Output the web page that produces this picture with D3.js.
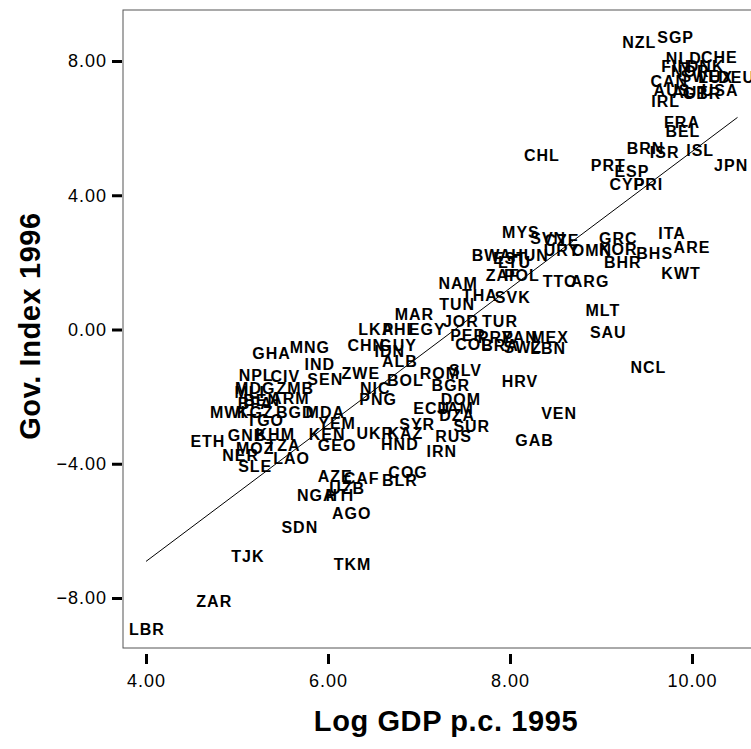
<!DOCTYPE html>
<html>
<head>
<meta charset="utf-8">
<script src="https://cdn.jsdelivr.net/npm/d3@7"></script>
<style>
  body { margin: 0; background: #fff; }
  svg { display: block; font-family: "Liberation Sans", Arial, sans-serif; }
  .lbl { font-weight: bold; font-size: 16px; letter-spacing: 1px; }
  .tick-lbl { font-size: 18px; letter-spacing: 1px; }
  .title { font-weight: bold; font-size: 29px; letter-spacing: 0.6px; }
</style>
</head>
<body>
<svg></svg>
<script>
// country codes, log gdp per capita 1995, governance index 1996
var codes = ["NZL","SGP","NLD","CHE","FIN","DNK","NOR","SWE","LUX","DEU","CAN","AUS","AUT","GBR","USA","IRL",
  "FRA","BEL","BRN","ISR","ISL","JPN","PRT","ESP","CYP","PRI","CHL",
  "MYS","CZE","SVN","GRC","URY","OMN","KOR","ITA","ARE","BHS","BHR","KWT","BWA","HUN","EST","LTU","ZAF","POL",
  "TTO","ARG","NAM","THA","SVK","TUN","MAR","JOR","TUR","LKA","PHL","EGY","PER","PRY","PAN","MEX","COL","BRA","SWZ","LBN",
  "MLT","SAU","NCL","HRV","VEN","GAB",
  "GHA","MNG","CHN","GUY","IDN","ALB","ZWE","BOL","NIC","PNG","IND","NPL","CIV","SEN","MDG","MLI","ZMB","BEN","BFA","ARM",
  "MWI","KGZ","BGD","MDA","TGO","YEM","KEN","KHM","GEO","ETH","GNB","MOZ","TZA","NER","SLE","LAO",
  "UKR","KAZ","HND","SYR","RUS","SUR","IRN","DZA","ECU","JAM","DOM","ROM","SLV","BGR",
  "AZE","UZB","NGA","HTI","CAF","BLR","COG","AGO","SDN","TJK","TKM","ZAR","LBR"];

var gdp = [9.42,9.82,9.91,10.30,9.82,10.15,9.98,10.09,10.26,10.49,9.75,9.78,9.98,10.11,10.31,9.71,
  9.89,9.90,9.49,9.70,10.09,10.43,9.08,9.34,9.29,9.52,8.35,
  8.12,8.57,8.42,9.19,8.57,8.90,9.19,9.78,10.00,9.59,9.24,9.88,7.80,8.22,8.00,8.05,7.92,8.13,
  8.55,8.88,7.43,7.67,8.03,7.42,6.95,7.46,7.89,6.53,6.79,7.09,7.54,7.84,8.11,8.44,7.60,7.89,8.14,8.42,
  9.02,9.08,9.52,8.11,8.54,8.27,
  5.38,5.80,6.42,6.77,6.68,6.79,6.36,6.85,6.52,6.55,5.91,5.21,5.53,5.97,5.20,5.14,5.64,5.27,5.20,5.58,
  4.90,5.20,5.64,5.97,5.31,6.10,5.99,5.42,6.10,4.68,5.11,5.20,5.51,5.04,5.20,5.60,
  6.52,6.85,6.79,6.98,7.38,7.58,7.25,7.42,7.14,7.40,7.46,7.23,7.51,7.35,
  6.08,6.21,5.87,6.13,6.37,6.79,6.88,6.26,5.69,5.12,6.27,4.75,4.01];

var gov = [8.55,8.70,8.07,8.10,7.84,7.84,7.69,7.54,7.51,7.51,7.39,7.12,7.06,7.03,7.12,6.79,
  6.17,5.90,5.39,5.27,5.33,4.89,4.89,4.71,4.32,4.32,5.18,
  2.89,2.65,2.71,2.71,2.35,2.35,2.38,2.86,2.44,2.26,2.00,1.67,2.20,2.20,2.12,2.00,1.61,1.61,
  1.43,1.43,1.37,1.01,0.95,0.74,0.45,0.24,0.24,0.00,0.00,0.00,-0.18,-0.24,-0.24,-0.24,-0.45,-0.48,-0.54,-0.57,
  0.57,-0.09,-1.13,-1.55,-2.50,-3.31,
  -0.72,-0.54,-0.48,-0.48,-0.66,-0.95,-1.31,-1.52,-1.76,-2.09,-1.04,-1.37,-1.40,-1.49,-1.76,-1.88,-1.76,-2.12,-2.20,-2.06,
  -2.47,-2.47,-2.47,-2.47,-2.71,-2.80,-3.13,-3.13,-3.46,-3.34,-3.16,-3.55,-3.46,-3.75,-4.08,-3.84,
  -3.10,-3.10,-3.43,-2.83,-3.19,-2.89,-3.64,-2.56,-2.35,-2.35,-2.09,-1.31,-1.22,-1.67,
  -4.38,-4.74,-4.95,-4.95,-4.44,-4.50,-4.26,-5.48,-5.90,-6.76,-7.00,-8.10,-8.94];

// fitted line end points
var fitX = [4.0, 10.5];
var fitY = [-6.91, 6.32];

var xTicks = [4, 6, 8, 10];
var yTicks = [-8, -4, 0, 4, 8];

var width = 751, height = 749;
var plotL = 123, plotT = 10, plotR = 781, plotB = 648;

var svg = d3.select("svg").attr("width", width).attr("height", height);

var x = d3.scaleLinear().domain([3.747, 10.978]).range([plotL, plotR]);
var y = d3.scaleLinear().domain([-9.49, 9.52]).range([plotB, plotT]);

// frame
svg.append("rect")
  .attr("x", plotL).attr("y", plotT)
  .attr("width", plotR - plotL).attr("height", plotB - plotT)
  .attr("fill", "none").attr("stroke", "#555").attr("stroke-width", 1);

// axes, ticks sit outside the frame
var yAxis = svg.append("g")
  .attr("transform", "translate(" + (plotL - 1) + ",0)")
  .call(d3.axisLeft(y).tickValues(yTicks).tickSize(10).tickPadding(5).tickFormat(d3.format(".2f")));
var xAxis = svg.append("g")
  .attr("transform", "translate(0," + (plotB + 6) + ")")
  .call(d3.axisBottom(x).tickValues(xTicks).tickSize(10).tickPadding(10).tickFormat(d3.format(".2f")));

[xAxis, yAxis].forEach(function(g) {
  g.select(".domain").remove();
  g.selectAll(".tick line").attr("stroke", "#000").attr("stroke-width", 3);
  g.selectAll(".tick text").attr("class", "tick-lbl").attr("fill", "#000");
});

// regression line
svg.append("line")
  .attr("x1", x(fitX[0])).attr("y1", y(fitY[0]))
  .attr("x2", x(fitX[1])).attr("y2", y(fitY[1]))
  .attr("stroke", "#000").attr("stroke-width", 1);

// case labels
svg.append("g")
  .selectAll("text")
  .data(codes)
  .enter()
    .append("text")
    .attr("class", "lbl")
    .attr("x", (d, i) => x(gdp[i]))
    .attr("y", (d, i) => y(gov[i]))
    .attr("text-anchor", "middle")
    .attr("dy", "0.36em")
    .text(d => d);

// titles
svg.append("text")
  .attr("class", "title")
  .attr("x", 446).attr("y", 731)
  .attr("text-anchor", "middle")
  .text("Log GDP p.c. 1995");

svg.append("text")
  .attr("class", "title")
  .attr("transform", "translate(40,326) rotate(-90)")
  .attr("text-anchor", "middle")
  .text("Gov. Index 1996");
</script>
</body>
</html>
